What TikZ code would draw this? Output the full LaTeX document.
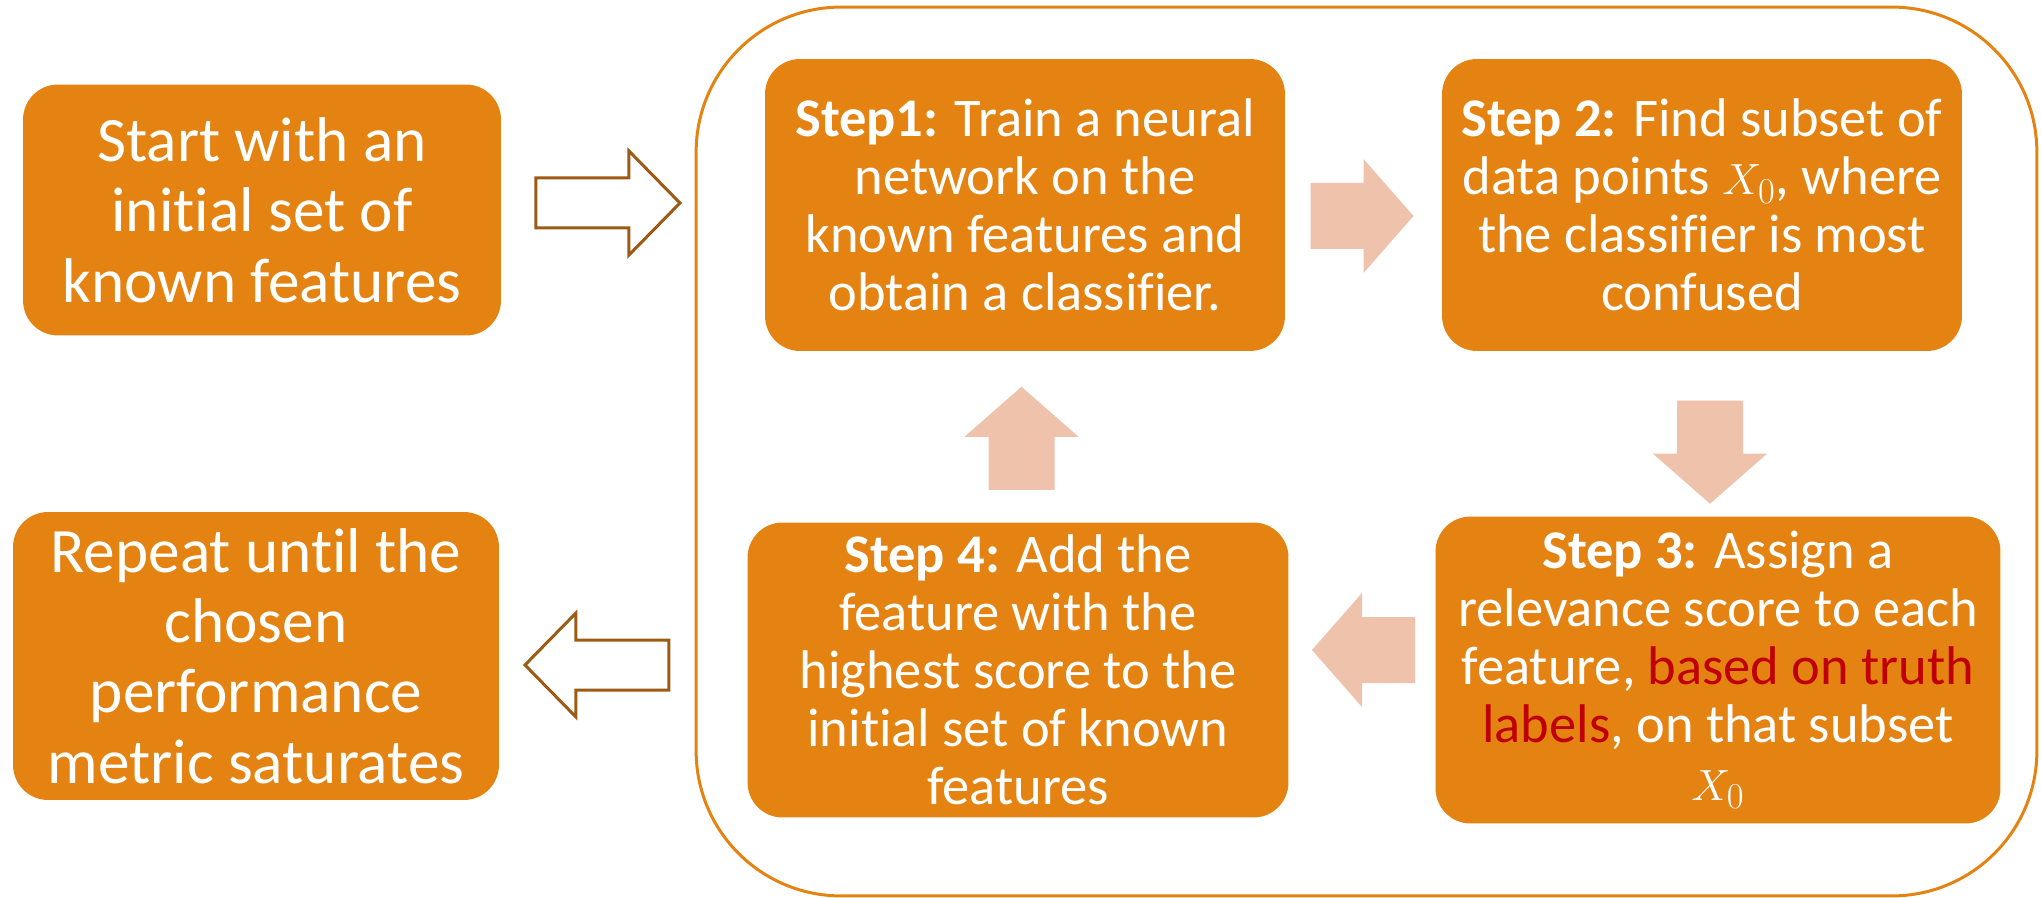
\documentclass[tikz,border=0pt]{standalone}
\usepackage{fontspec}
\setmainfont{Carlito}[Ligatures=NoCommon]
\usetikzlibrary{calc, positioning}

\definecolor{boxorange}{HTML}{E48312}
\definecolor{arrowpink}{HTML}{EFC2AC}
\definecolor{rimbrown}{HTML}{9C5A14}
\definecolor{hotred}{HTML}{C00000}

\tikzset{
  stepbox/.style={fill=boxorange, text=white, rounded corners=0.7cm, align=center,
    font=\fontsize{31}{33}\selectfont, inner sep=0pt},
  sidebox/.style={stepbox, font=\fontsize{36}{40}\selectfont},
  pics/fatarrow/.style={code={
    \fill[arrowpink] (-53,-33) -- (0,-33) -- (0,-57) -- (50,0) -- (0,57) -- (0,33) -- (-53,33) -- cycle;}},
  pics/hollowarrow/.style={code={
    \draw[rimbrown, fill=white, line width=0.06cm] (-72,-25) -- (21,-25) -- (21,-52) -- (72,0) -- (21,52) -- (21,25) -- (-72,25) -- cycle;}},
}

\begin{document}
\begin{tikzpicture}[x=0.02cm, y=-0.02cm]
    \useasboundingbox (0,0) rectangle (2041,898);

    % the loop frame
    \node[draw=boxorange, line width=0.06cm, rounded corners=2.9cm,
          minimum width=26.82cm, minimum height=17.78cm] (loop) at (1366.5,451.5) {};

    % outer boxes
    \node[sidebox, minimum width=9.56cm, minimum height=5.02cm] (start) at (262,210)
        {Start with an\\initial set of\\known features};
    \node[sidebox, minimum width=9.72cm, minimum height=5.76cm] (repeat) at (256,656)
        {Repeat until the\\chosen\\performance\\metric saturates};

    % the four steps
    \node[stepbox, minimum width=10.4cm, minimum height=5.84cm] (s1) at (1025,205)
        {\textbf{Step1:} Train a neural\\network on the\\known features and\\obtain a classifier.};
    \node[stepbox, minimum width=10.4cm, minimum height=5.84cm] (s2) at (1702,205)
        {\textbf{Step 2:} Find subset of\\data points $X_0$, where\\the classifier is most\\confused};
    \node[stepbox, minimum width=11.3cm, minimum height=6.14cm] (s3) at (1718,670)
        {\textbf{Step 3:} Assign a\\relevance score to each\\feature, \textcolor{hotred}{based on truth}\\\textcolor{hotred}{labels}, on that subset\\$X_0$};
    \node[stepbox, minimum width=10.82cm, minimum height=5.9cm] (s4) at (1018,670)
        {\textbf{Step 4:} Add the\\feature with the\\highest score to the\\initial set of known\\features};

    % arrows
    \pic[xshift=0.2cm, yshift=0.14cm] at ($(start.east)!.5!(start.east -| loop.west)$) {hollowarrow};
    \pic[rotate=180, yshift=0.18cm] at ($(repeat.east)!.5!(repeat.east -| loop.west)$) {hollowarrow};
    \pic[yshift=-0.22cm] at ($(s1.east)!.5!(s2.west)$) {fatarrow};
    \pic[rotate=-90, xshift=0.4cm] at ($(s2.south)!.5!(s3.north)$) {fatarrow};
    \pic[rotate=180, yshift=-0.4cm] at ($(s3.west)!.5!(s4.east)$) {fatarrow};
    \pic[rotate=90] at ($(s4.north)!.5!(s1.south)$) {fatarrow};
\end{tikzpicture}
\end{document}
